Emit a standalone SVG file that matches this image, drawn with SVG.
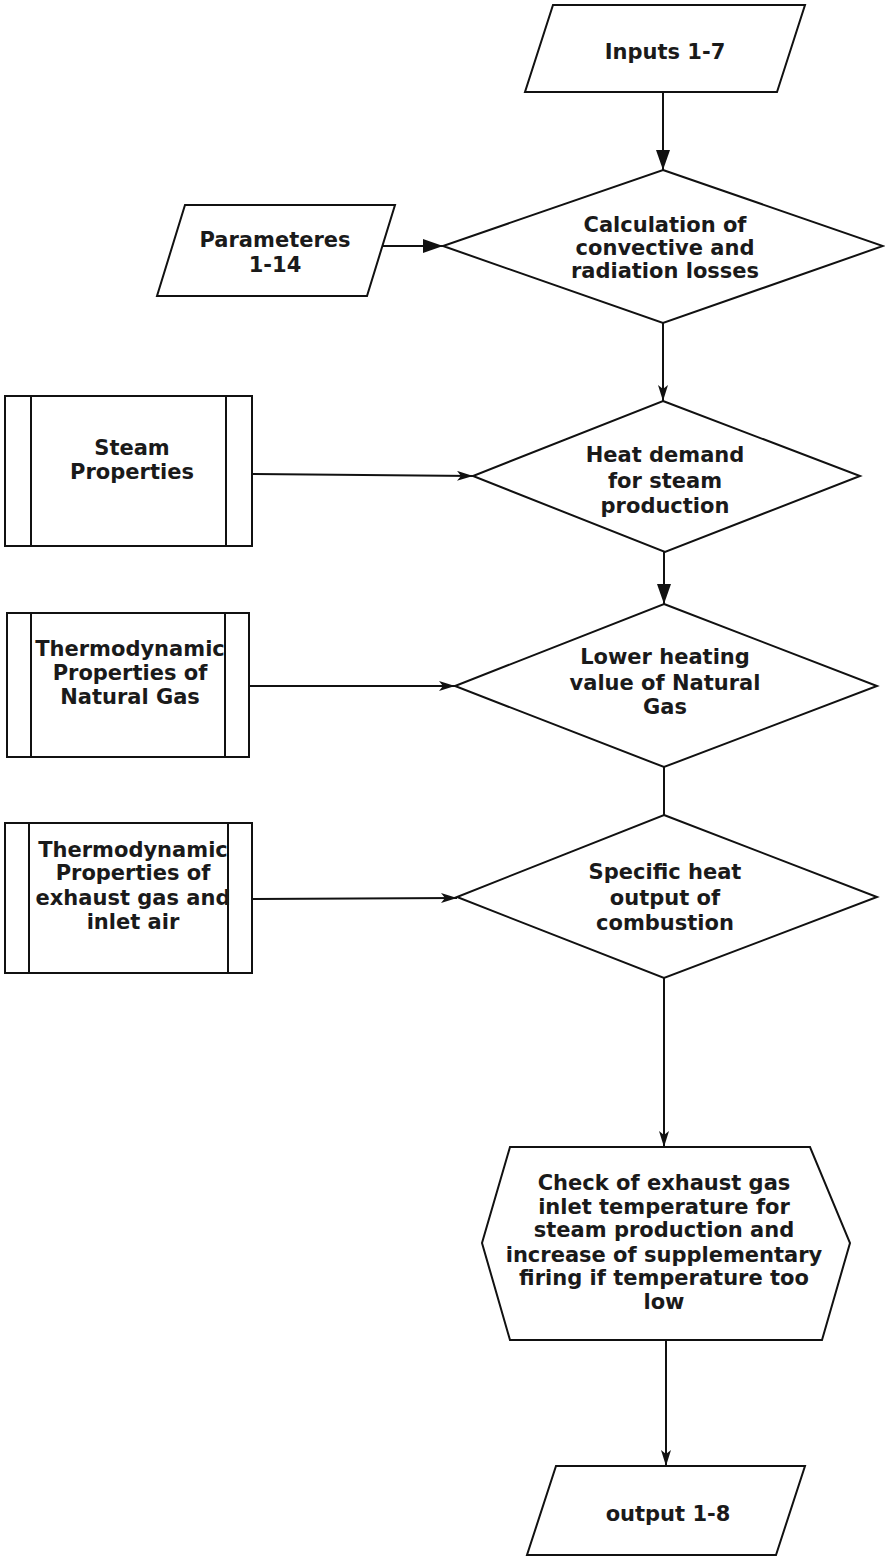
<svg xmlns="http://www.w3.org/2000/svg" width="885" height="1562" viewBox="0 0 885 1562">
<style>
.s{fill:#fff;stroke:#111;stroke-width:2}
.l{fill:none;stroke:#111;stroke-width:2}
.t{font-family:"DejaVu Sans",Verdana,sans-serif;font-weight:bold;font-size:21px;fill:#1a1a1a;text-anchor:middle}
</style>
<defs>
<marker id="af" markerUnits="userSpaceOnUse" markerWidth="22" markerHeight="16" refX="20" refY="7" orient="auto">
<path d="M0,0 L20,7 L0,14 z" fill="#111"/>
</marker>
<marker id="as" markerUnits="userSpaceOnUse" markerWidth="18" markerHeight="12" refX="16" refY="5" orient="auto">
<path d="M0,0 L16,5 L0,10 L4,5 z" fill="#111"/>
</marker>
</defs>
<rect width="885" height="1562" fill="#fff"/>
<g id="connectors">
<line class="l" x1="663" y1="92" x2="663" y2="170" marker-end="url(#af)"/>
<line class="l" x1="381" y1="246" x2="443" y2="246" marker-end="url(#af)"/>
<line class="l" x1="663" y1="323" x2="663" y2="401" marker-end="url(#as)"/>
<line class="l" x1="252" y1="474" x2="473" y2="476" marker-end="url(#as)"/>
<line class="l" x1="664" y1="552" x2="664" y2="604" marker-end="url(#af)"/>
<line class="l" x1="249" y1="686" x2="455" y2="686" marker-end="url(#as)"/>
<line class="l" x1="664" y1="767" x2="664" y2="815"/>
<line class="l" x1="252" y1="899" x2="457" y2="898" marker-end="url(#as)"/>
<line class="l" x1="664" y1="978" x2="664" y2="1147" marker-end="url(#as)"/>
<line class="l" x1="666" y1="1340" x2="666" y2="1466" marker-end="url(#as)"/>
</g>
<g id="inputs">
<polygon class="s" points="553,5 805,5 777,92 525,92"/>
<text class="t" x="665" y="59">Inputs 1-7</text>
</g>
<g id="parameters">
<polygon class="s" points="185,205 395,205 367,296 157,296"/>
<text class="t" x="275" y="247">Parameteres<tspan x="275" y="272">1-14</tspan></text>
</g>
<g id="calc-losses">
<polygon class="s" points="663,170 883,246 663,323 443,246"/>
<text class="t" x="665" y="232">Calculation of<tspan x="665" y="255">convective and</tspan><tspan x="665" y="278">radiation losses</tspan></text>
</g>
<g id="steam-properties">
<rect class="s" x="5" y="396" width="247" height="150"/>
<line class="l" x1="31" y1="396" x2="31" y2="546"/>
<line class="l" x1="226" y1="396" x2="226" y2="546"/>
<text class="t" x="132" y="455">Steam<tspan x="132" y="479">Properties</tspan></text>
</g>
<g id="heat-demand">
<polygon class="s" points="663,401 860,476 665,552 473,476"/>
<text class="t" x="665" y="462">Heat demand<tspan x="665" y="488">for steam</tspan><tspan x="665" y="513">production</tspan></text>
</g>
<g id="natural-gas-properties">
<rect class="s" x="7" y="613" width="242" height="144"/>
<line class="l" x1="31" y1="613" x2="31" y2="757"/>
<line class="l" x1="225" y1="613" x2="225" y2="757"/>
<text class="t" x="130" y="656">Thermodynamic<tspan x="130" y="680">Properties of</tspan><tspan x="130" y="704">Natural Gas</tspan></text>
</g>
<g id="lower-heating">
<polygon class="s" points="664,604 877,686 664,767 455,686"/>
<text class="t" x="665" y="664">Lower heating<tspan x="665" y="690">value of Natural</tspan><tspan x="665" y="714">Gas</tspan></text>
</g>
<g id="exhaust-properties">
<rect class="s" x="5" y="823" width="247" height="150"/>
<line class="l" x1="29" y1="823" x2="29" y2="973"/>
<line class="l" x1="228" y1="823" x2="228" y2="973"/>
<text class="t" x="133" y="857">Thermodynamic<tspan x="133" y="880">Properties of</tspan><tspan x="133" y="905">exhaust gas and</tspan><tspan x="133" y="929">inlet air</tspan></text>
</g>
<g id="specific-heat">
<polygon class="s" points="664,815 877,897 664,978 457,897"/>
<text class="t" x="665" y="879">Specific heat<tspan x="665" y="905">output of</tspan><tspan x="665" y="930">combustion</tspan></text>
</g>
<g id="check-temperature">
<polygon class="s" points="510,1147 810,1147 850,1243 822,1340 510,1340 482,1243"/>
<text class="t" x="664" y="1190">Check of exhaust gas<tspan x="664" y="1214">inlet temperature for</tspan><tspan x="664" y="1237">steam production and</tspan><tspan x="664" y="1262">increase of supplementary</tspan><tspan x="664" y="1285">firing if temperature too</tspan><tspan x="664" y="1309">low</tspan></text>
</g>
<g id="output">
<polygon class="s" points="556,1466 805,1466 776,1555 527,1555"/>
<text class="t" x="668" y="1521">output 1-8</text>
</g>
</svg>
